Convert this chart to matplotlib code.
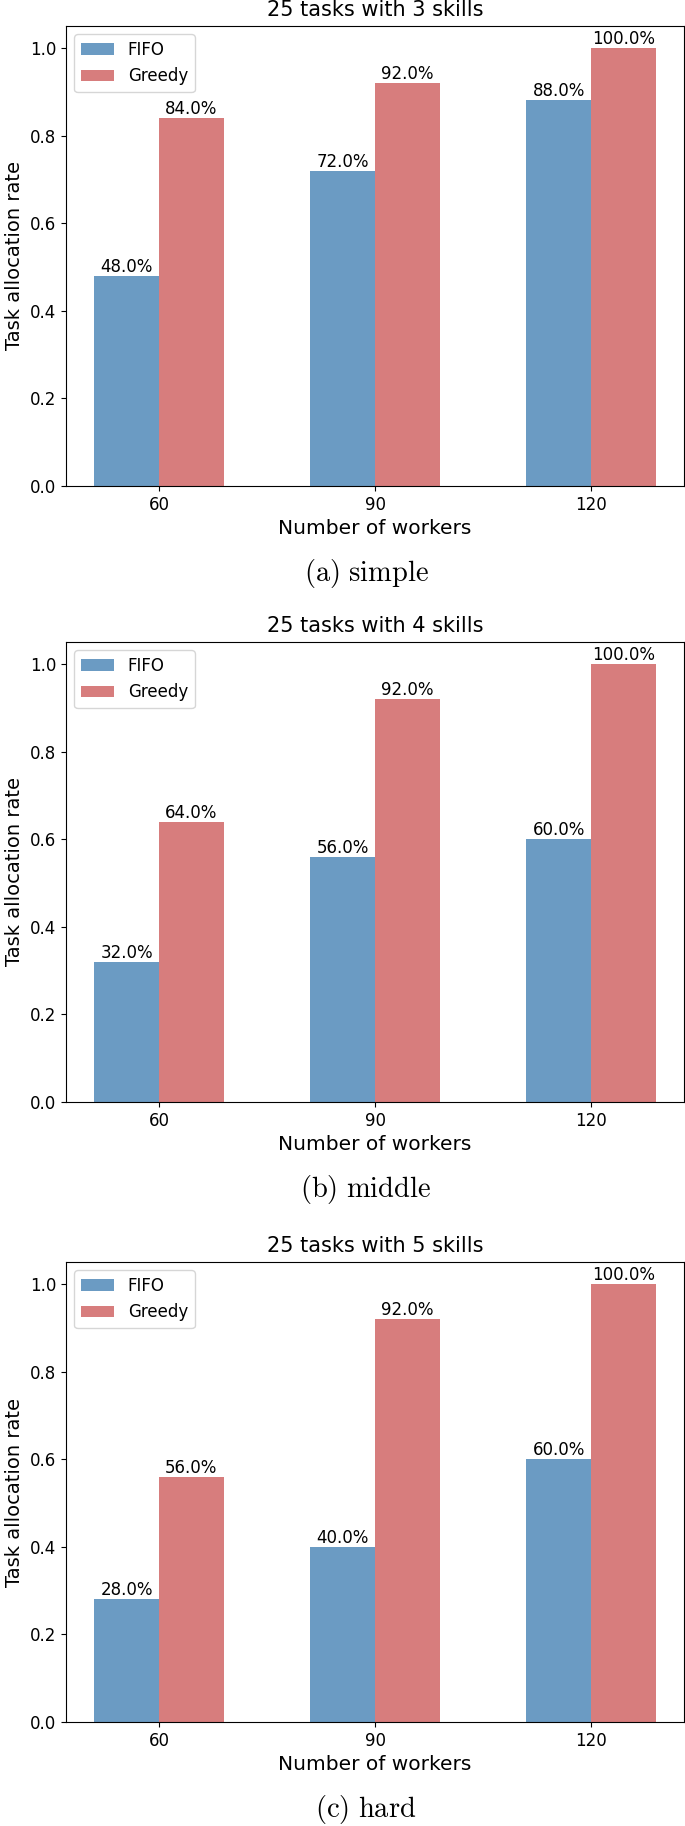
import matplotlib
matplotlib.use("Agg")
import matplotlib.pyplot as plt
import numpy as np

# 데이터
workers = ["60", "90", "120"]
titles = ["25 tasks with 3 skills", "25 tasks with 4 skills", "25 tasks with 5 skills"]
captions = ["(a)\\ simple", "(b)\\ middle", "(c)\\ hard"]
fifo = [[0.48, 0.72, 0.88], [0.32, 0.56, 0.60], [0.28, 0.40, 0.60]]
greedy = [[0.84, 0.92, 1.00], [0.64, 0.92, 1.00], [0.56, 0.92, 1.00]]

plt.rcParams["mathtext.fontset"] = "cm"
plt.rcParams["xtick.labelsize"] = 12
plt.rcParams["ytick.labelsize"] = 12

W, H = 685, 1826
fig = plt.figure(figsize=(W / 100, H / 100), dpi=100)

x = np.arange(len(workers))
width = 0.3
bottoms = [486, 1102, 1722]   # 각 패널 x축 위치 (px)
ax_h = 460
left, right = 66, 684

for i in range(3):
    ax = fig.add_axes([left / W, 1 - bottoms[i] / H, (right - left) / W, ax_h / H])
    b1 = ax.bar(x - width / 2, fifo[i], width, color="steelblue", alpha=0.8, label="FIFO")
    b2 = ax.bar(x + width / 2, greedy[i], width, color="indianred", alpha=0.8, label="Greedy")
    for bars in (b1, b2):
        for rect in bars:
            h = rect.get_height()
            ax.text(rect.get_x() + rect.get_width() / 2, h, f"{h * 100:.1f}%",
                    ha="center", va="bottom", fontsize=12)
    ax.set_xticks(x)
    ax.set_xticklabels(workers)
    ax.set_ylim(0, 1.05)
    ax.set_xlabel("Number of workers", fontsize=14.5)
    ax.set_ylabel("Task allocation rate", fontsize=14)
    ax.set_title(titles[i], fontsize=15, pad=7)
    ax.legend(loc="upper left", fontsize=12)
    fig.text(366 / W, 1 - (bottoms[i] + 87) / H, "$\\mathrm{" + captions[i] + "}$",
             ha="center", va="center", fontsize=20.5)

fig.savefig("out.png", dpi=100)
